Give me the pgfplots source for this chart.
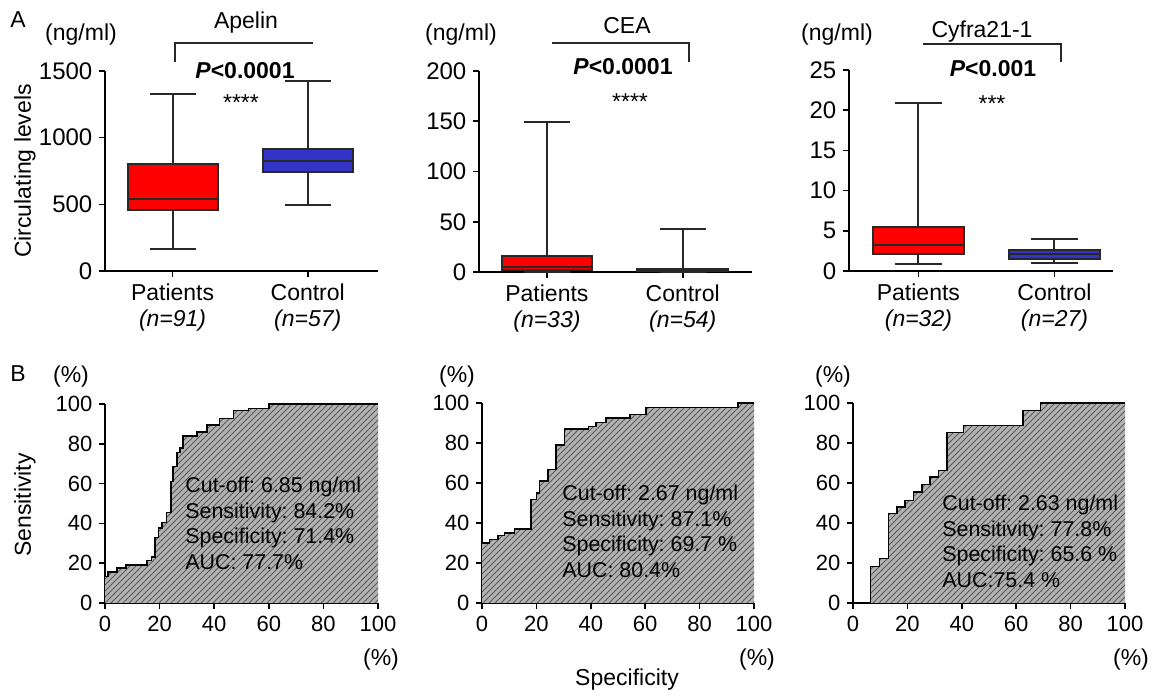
\documentclass[border=0pt]{standalone}
\usepackage{fontspec}
\setmainfont{Liberation Sans}
\usepackage{pgfplots}
\pgfplotsset{compat=1.18}
\usepackage{pgfplotstable}
\usetikzlibrary{patterns}
\definecolor{boxred}{RGB}{255,0,0}
\definecolor{boxblue}{RGB}{51,51,200}
\definecolor{edge}{RGB}{40,40,40}
\newcommand{\fA}{\fontsize{12}{14}\selectfont}
\newcommand{\fB}{\fontsize{11.5}{13}\selectfont}
\newcommand{\fC}{\fontsize{10.7}{12.75}\selectfont}
\newcommand{\fR}{\fontsize{11}{13}\selectfont}
\frenchspacing

\pgfplotstableread{
x y
0 13.4
1.2 15.6
4.3 17.6
7.7 19.2
15.3 21.4
17.1 23
18.3 33
19.6 37.6
20.8 40.5
22.6 45.5
24.1 61
25 68.6
26.3 75.6
27.5 77.8
28.5 84
33.6 86
37.3 89.5
42 92.8
47 96.7
52.6 97.8
60 100
100 100
}\rocA
\pgfplotstableread{
x y
0 30
2.8 31.7
5.9 33.7
8.3 35
12 37
18.1 51.7
20 55
21.2 61
24.3 66.7
27.3 79
30.4 87
39.2 88.3
42 90.3
45.5 92.5
54.5 94.2
60.4 97.8
94.1 100
100 100
}\rocB
\pgfplotstableread{
x y
0 0
6.4 18.3
9.8 22.2
13.1 44.7
16.1 48
19.2 51.3
22.2 55.5
25.3 59.3
28.4 63
31.4 66.3
34.5 85.2
40.6 88.8
62.6 96.3
69 100
100 100
}\rocC

\pgfplotsset{
  common/.style={
    scale only axis, axis lines=left,
    axis line style={-, line width=0.8pt, black},
    tick style={black, line width=0.8pt},
    tick align=outside, major tick length=2.8pt,
    enlargelimits=false, clip=false,
    /pgf/number format/assume math mode=true,
    /pgf/number format/1000 sep={},
    anchor=south west,
  },
  boxax/.style={common, xtick={1,2},
    xticklabel style={align=center, font=\fB},
    yticklabel style={font=\fA},
  },
  rocax/.style={common, xmin=0, xmax=100, ymin=0, ymax=100,
    xtick={0,20,...,100}, ytick={0,20,...,100},
    tick label style={font=\fR},
  },
  rocfill/.style={const plot, draw=none, fill=gray!60,
    postaction={pattern=north east lines, pattern color=black!65}},
  rocline/.style={const plot, black, line width=0.8pt},
  bx/.style={draw=edge, line width=1pt, solid, mark=none},
}

% one box: position, lower whisker, lower quartile, median, upper quartile, upper whisker, colour
\newcommand{\mybox}[7]{%
  \pgfmathsetmacro\bL{#1-0.3335}\pgfmathsetmacro\bR{#1+0.3335}%
  \pgfmathsetmacro\cL{#1-0.17}\pgfmathsetmacro\cR{#1+0.17}%
  \addplot[bx] coordinates {(#1,#5) (#1,#6)};
  \addplot[bx] coordinates {(\cL,#6) (\cR,#6)};
  \addplot[bx] coordinates {(#1,#2) (#1,#3)};
  \addplot[bx] coordinates {(\cL,#2) (\cR,#2)};
  \addplot[bx, fill=#7] coordinates {(\bL,#3) (\bR,#3) (\bR,#5) (\bL,#5)} -- cycle;
  \addplot[bx, line width=1.1pt] coordinates {(\bL,#4) (\bR,#4)};
}

\begin{document}
\begin{tikzpicture}
\path[use as bounding box] (0,0) rectangle (578pt,348pt);

% ---------- Panel A: Apelin ----------
\begin{axis}[boxax, at={(52.5pt,212.5pt)}, width=136.5pt, height=100pt,
  xmin=0.5, xmax=2.52, ymin=0, ymax=1500, ytick={0,500,1000,1500},
  xticklabels={{Patients\\\textit{(n=91)}},{Control\\\textit{(n=57)}}}]
\mybox{1}{165}{457}{540}{803}{1328}{boxred}
\mybox{2}{495}{742}{825}{915}{1425}{boxblue}
\end{axis}

% ---------- Panel A: CEA ----------
\begin{axis}[boxax, at={(239.5pt,212pt)}, width=136.5pt, height=100.5pt,
  xmin=0.5, xmax=2.51, ymin=0, ymax=200, ytick={0,50,100,150,200},
  xticklabels={{Patients\\\textit{(n=33)}},{Control\\\textit{(n=54)}}}]
\mybox{1}{0}{1.5}{5}{16}{149}{boxred}
\mybox{2}{0.2}{0.5}{1.2}{2.5}{43}{boxblue}
\end{axis}

% ---------- Panel A: Cyfra21-1 ----------
\begin{axis}[boxax, at={(424.5pt,212.5pt)}, width=132pt, height=100.5pt,
  xmin=0.49, xmax=2.43, ymin=0, ymax=25, ytick={0,5,10,15,20,25},
  xticklabels={{Patients\\\textit{(n=32)}},{Control\\\textit{(n=27)}}}]
\mybox{1}{0.85}{2.1}{3.2}{5.5}{20.9}{boxred}
\mybox{2}{0.95}{1.5}{2.1}{2.6}{4.0}{boxblue}
\end{axis}

% ---------- Panel B: ROC curves ----------
\begin{axis}[rocax, at={(52.5pt,46.5pt)}, width=136.5pt, height=99.5pt]
\addplot[rocfill] table[x=x,y=y]{\rocA} \closedcycle;
\addplot[rocline] table[x=x,y=y]{\rocA};
\end{axis}

\begin{axis}[rocax, at={(241pt,46.5pt)}, width=136pt, height=100pt]
\addplot[rocfill] table[x=x,y=y]{\rocB} \closedcycle;
\addplot[rocline] table[x=x,y=y]{\rocB};
\end{axis}

\begin{axis}[rocax, at={(426.5pt,46.5pt)}, width=136pt, height=100pt]
\addplot[rocfill] table[x=x,y=y]{\rocC} \closedcycle;
\addplot[rocline] table[x=x,y=y]{\rocC};
\end{axis}

% ---------- annotations (pixel coordinates) ----------
\begin{scope}[yshift=348pt, x=0.5pt, y=-0.5pt]
  \node[font=\fB] at (18,20) {A};
  \node[font=\fB] at (18,374) {B};
  % Apelin
  \node[font=\fB] at (81,35) {(ng/ml)};
  \node[font=\fB] at (246,23) {Apelin};
  \draw[line width=0.6pt, edge] (175,62) -- (175,43) -- (313,43);
  \node[font=\fontsize{11.5}{13}\selectfont\bfseries] at (245,71) {\textit{P}<0.0001};
  \node[font=\fB, anchor=base] at (241,111) {****};
  \node[font=\fB, rotate=90] at (25,171) {Circulating levels};
  % CEA
  \node[font=\fB] at (461,35) {(ng/ml)};
  \node[font=\fB] at (627,26) {CEA};
  \draw[line width=0.6pt, edge] (552,43) -- (689,43) -- (689,62);
  \node[font=\fontsize{11.5}{13}\selectfont\bfseries] at (623,67) {\textit{P}<0.0001};
  \node[font=\fB, anchor=base] at (630,110) {****};
  % Cyfra
  \node[font=\fB] at (837,35) {(ng/ml)};
  \node[font=\fB] at (982,32) {Cyfra21-1};
  \draw[line width=0.6pt, edge] (923,44) -- (1061,44) -- (1061,62);
  \node[font=\fontsize{11.5}{13}\selectfont\bfseries] at (993,69) {\textit{P}<0.001};
  \node[font=\fB, anchor=base] at (992,112) {***};
  % ROC labels
  \node[font=\fB] at (71,377) {(\%)};
  \node[font=\fB] at (457,377) {(\%)};
  \node[font=\fB] at (833,377) {(\%)};
  \node[font=\fB] at (381,660) {(\%)};
  \node[font=\fB] at (757,660) {(\%)};
  \node[font=\fB] at (1131,660) {(\%)};
  \node[font=\fB, rotate=90] at (25,505) {Sensitivity};
  \node[font=\fB] at (627,680) {Specificity};
  \node[font=\fC, align=left, anchor=north west, inner sep=0pt] at (185,477)
    {Cut-off: 6.85 ng/ml\\Sensitivity: 84.2\%\\Specificity: 71.4\%\\AUC: 77.7\%};
  \node[font=\fC, align=left, anchor=north west, inner sep=0pt] at (562,485)
    {Cut-off: 2.67 ng/ml\\Sensitivity: 87.1\%\\Specificity: 69.7 \%\\AUC: 80.4\%};
  \node[font=\fC, align=left, anchor=north west, inner sep=0pt] at (942,495)
    {Cut-off: 2.63 ng/ml\\Sensitivity: 77.8\%\\Specificity: 65.6 \%\\AUC:75.4 \%};
\end{scope}
\end{tikzpicture}
\end{document}
